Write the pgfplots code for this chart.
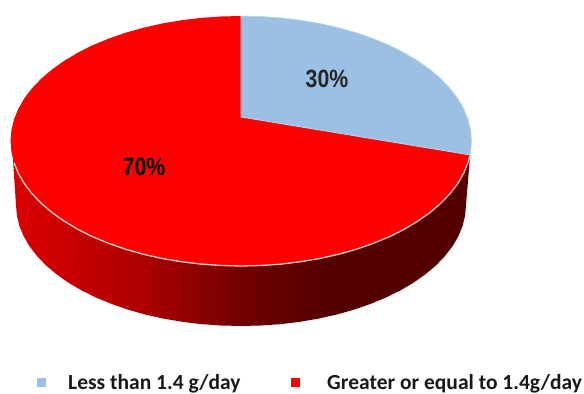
\documentclass[border=0pt]{standalone}
\usepackage{graphicx}
\usepackage{fontspec}
\setmainfont{Carlito}
\newfontfamily\labelfont{Liberation Sans}
\usepackage{pgfplots}
\pgfplotsset{compat=1.18}

\definecolor{lowblue}{RGB}{156,192,227}
\definecolor{lowedge}{RGB}{178,216,240}
\definecolor{highred}{RGB}{255,0,0}
\definecolor{rimline}{RGB}{240,205,205}
\definecolor{rimA}{RGB}{217,0,0}
\definecolor{rimB}{RGB}{171,0,0}
\definecolor{rimC}{RGB}{115,0,0}
\definecolor{rimD}{RGB}{94,0,0}
\definecolor{rimE}{RGB}{84,0,0}

% Left-to-right light falloff along the rim of the disc;
% the path's bounding box spans 25bp to 75bp of the shading
\pgfdeclarehorizontalshading{rimshade}{100bp}{
  color(0bp)=(rimA);
  color(26bp)=(rimA);
  color(39.5bp)=(rimB);
  color(50bp)=(rimC);
  color(55.5bp)=(rimD);
  color(59bp)=(rimE);
  color(100bp)=(rimE)}

\begin{document}
\begin{tikzpicture}
\begin{axis}[
  scale only axis, width=584pt, height=394pt,
  xmin=0, xmax=584, ymin=0, ymax=394,
  y dir=reverse, hide axis, clip=false,
  legend columns=2,
  legend cell align=left,
  legend style={
    at={(axis cs:37,382.5)}, anchor=west, draw=none, fill=none,
    inner sep=0pt, outer sep=0pt,
    font=\bfseries\fontsize{21.5}{23}\selectfont,
    text=black!90,
    /tikz/column 2/.style={column sep=48.5pt},
  },
]
  % Key entries
  \addlegendimage{legend image code/.code={
    \fill[lowblue] (0pt,-4pt) rectangle (8pt,4pt);
    \path[draw=none] (0pt,0pt) -- (29pt,0pt);}}
  \addlegendentry{Less than 1.4 g/day}
  \addlegendimage{legend image code/.code={
    \fill[highred] (0pt,-4pt) rectangle (8pt,4pt);
    \path[draw=none] (0pt,0pt) -- (34pt,0pt);}}
  \addlegendentry{Greater or equal to 1.4g/day}

  % Rim of the disc
  \addplot[forget plot, draw=none, shading=rimshade] coordinates {
    (13,160) (14,175) (16,205)
    (16.9,215.5) (19.4,226) (23.7,236.3) (29.6,246.4) (37.1,256.1)
    (46.1,265.5) (56.7,274.4) (68.6,282.8) (81.9,290.6) (96.4,297.7)
    (111.9,304.1) (128.5,309.8) (145.9,314.7) (164,318.7) (182.8,321.9)
    (201.9,324.2) (221.4,325.5) (241,326) (260.6,325.5) (280.1,324.2)
    (299.2,321.9) (318,318.7) (336.1,314.7) (353.5,309.8) (370.1,304.1)
    (385.6,297.7) (400.1,290.6) (413.4,282.8) (425.3,274.4) (435.9,265.5)
    (444.9,256.1) (452.4,246.4) (458.3,236.3) (462.6,226) (465.1,215.5)
    (466,205) (468.5,175) (470.1,155) (241,140)
  } -- cycle;

  % 70% slice
  \addplot[forget plot, draw=none, fill=highred] coordinates {
    (241,117) (470.1,155)
    (468,162.7) (463.6,173.4) (457.6,183.8) (449.9,193.8) (440.6,203.5)
    (429.8,212.7) (417.6,221.3) (404,229.4) (389.2,236.8) (373.2,243.4)
    (356.3,249.3) (338.4,254.3) (319.8,258.5) (300.7,261.7) (281,264.1)
    (261.1,265.5) (241,266) (220.9,265.5) (201,264.1) (181.3,261.7)
    (162.2,258.5) (143.6,254.3) (125.7,249.3) (108.8,243.4) (92.8,236.8)
    (78,229.4) (64.4,221.3) (52.2,212.7) (41.4,203.5) (32.1,193.8)
    (24.4,183.8) (18.4,173.4) (14,162.7) (11.4,151.9) (10.5,141)
    (11.4,130.1) (14,119.3) (18.4,108.6) (24.4,98.2) (32.1,88.2)
    (41.4,78.5) (52.2,69.3) (64.4,60.7) (78,52.6) (92.8,45.2)
    (108.8,38.6) (125.7,32.7) (143.6,27.7) (162.2,23.5) (181.3,20.3)
    (201,17.9) (220.9,16.5) (241,16)
  } -- cycle;

  % Light edge where the top face meets the rim
  \addplot[forget plot, rimline, line width=1.3pt] coordinates {
    (470.1,155)
    (468,162.7) (463.6,173.4) (457.6,183.8) (449.9,193.8) (440.6,203.5)
    (429.8,212.7) (417.6,221.3) (404,229.4) (389.2,236.8) (373.2,243.4)
    (356.3,249.3) (338.4,254.3) (319.8,258.5) (300.7,261.7) (281,264.1)
    (261.1,265.5) (241,266) (220.9,265.5) (201,264.1) (181.3,261.7)
    (162.2,258.5) (143.6,254.3) (125.7,249.3) (108.8,243.4) (92.8,236.8)
    (78,229.4) (64.4,221.3) (52.2,212.7) (41.4,203.5) (32.1,193.8)
    (24.4,183.8) (18.4,173.4) (14,162.7)
  };

  % 30% slice
  \addplot[forget plot, draw=lowedge, line width=0.7pt, fill=lowblue] coordinates {
    (241,117) (241,16)
    (261.1,16.5) (281,17.9) (300.7,20.3) (319.8,23.5) (338.4,27.7)
    (356.3,32.7) (373.2,38.6) (389.2,45.2) (404,52.6) (417.6,60.7)
    (429.8,69.3) (440.6,78.5) (449.9,88.2) (457.6,98.2) (463.6,108.6)
    (468,119.3) (470.6,130.1) (471.5,141) (470.6,151.9) (470.1,155)
  } -- cycle;

  % Share labels
  \node[text=black!85, font=\labelfont\bfseries\fontsize{25}{28}\selectfont, inner sep=0pt]
    at (axis cs:327,79) {\scalebox{0.85}[1]{30\%}};
  \node[text=black, font=\labelfont\bfseries\fontsize{25}{28}\selectfont, inner sep=0pt]
    at (axis cs:144,167) {\scalebox{0.85}[1]{70\%}};

  % Keeps the page the full size of the figure
  \path (axis cs:0,0) rectangle (axis cs:584,394);
\end{axis}
\end{tikzpicture}
\end{document}
